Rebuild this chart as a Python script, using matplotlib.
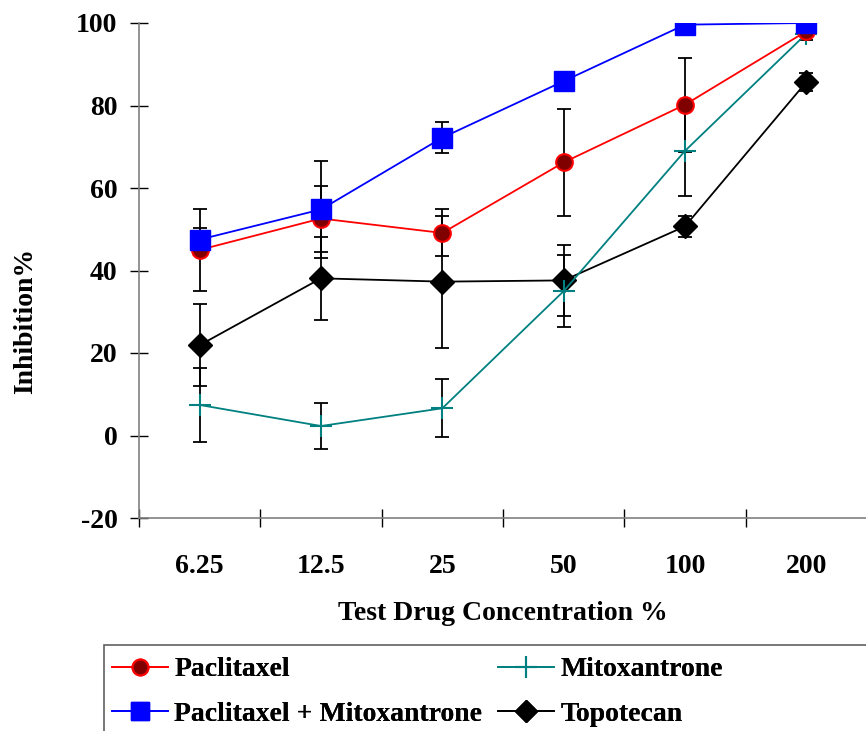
import matplotlib
matplotlib.use("Agg")
import matplotlib.pyplot as plt
from matplotlib.patches import Rectangle
import numpy as np

# concentrations (categories) and inhibition values
concentrations = ['6.25', '12.5', '25', '50', '100', '200']

paclitaxel = [45.0, 52.6, 49.1, 66.2, 80.2, 98.0]
paclitaxel_err = [10.0, 8.0, 5.7, 13.0, 11.4, 0.0]

pac_mito = [47.5, 54.8, 72.2, 85.9, 99.6, 100.0]
pac_mito_err = [2.7, 11.8, 3.7, 0.0, 0.0, 0.0]

mitoxantrone = [7.4, 2.3, 6.6, 35.0, 69.0, 97.4]
mitoxantrone_err = [9.0, 5.5, 7.0, 8.8, 11.0, 1.5]

topotecan = [21.9, 38.1, 37.3, 37.6, 50.7, 85.7]
topotecan_err = [10.0, 10.0, 16.0, 8.7, 2.5, 2.3]

font = 'Liberation Serif'
plt.rcParams['font.family'] = font
plt.rcParams['font.weight'] = 'bold'
plt.rcParams['axes.unicode_minus'] = False

fig = plt.figure(figsize=(8.66, 7.31), dpi=100)
ax = fig.add_axes([139 / 866, (731 - 518) / 731, (867 - 139) / 866, (518 - 23) / 731])

x = np.arange(len(concentrations))

# error bars first, so the markers sit on top
for vals, errs in [(paclitaxel, paclitaxel_err), (pac_mito, pac_mito_err),
                   (mitoxantrone, mitoxantrone_err), (topotecan, topotecan_err)]:
    ax.errorbar(x, vals, yerr=errs, fmt='none', ecolor='black',
                elinewidth=1.3, capsize=5, capthick=1.3, zorder=2)

ax.plot(x, topotecan, color='black', lw=1.3, marker='D', ms=12,
        mfc='black', mec='black', zorder=3, label='Topotecan')
ax.plot(x, mitoxantrone, color='#008080', lw=1.3, marker='+', ms=16,
        mew=1.5, zorder=4, label='Mitoxantrone')
ax.plot(x, paclitaxel, color='#FF0000', lw=1.3, marker='o', ms=12,
        mfc='#800000', mec='#FF0000', mew=1.5, zorder=5, label='Paclitaxel')
ax.plot(x, pac_mito, color='#0000FF', lw=1.3, marker='s', ms=14,
        mfc='#0000FF', mec='#0000FF', zorder=6, label='Paclitaxel + Mitoxantrone')

ax.set_xlim(-0.5, len(concentrations) - 0.5)
ax.set_ylim(-20, 100)
ax.set_yticks(np.arange(-20, 101, 20))
ax.set_xticks(x)
ax.set_xticklabels(concentrations)
ax.set_xticks(np.arange(-0.5, len(concentrations), 1), minor=True)

for s in ['top', 'right']:
    ax.spines[s].set_visible(False)
for s in ['left', 'bottom']:
    ax.spines[s].set_color('#808080')
    ax.spines[s].set_linewidth(1.2)

ax.tick_params(axis='y', direction='inout', length=13, width=1, color='black',
               labelsize=20, pad=9)
ax.tick_params(axis='x', which='major', length=0, labelsize=20, pad=26)
ax.tick_params(axis='x', which='minor', direction='inout', length=13, width=1, color='black')
for lab in ax.get_xticklabels() + ax.get_yticklabels():
    lab.set_fontweight('bold')

fig.text(26 / 866, 1 - 321 / 731, 'Inhibition%', rotation=90, ha='center', va='center',
         fontsize=20, fontweight='bold')
fig.text(503 / 866, 1 - 614 / 731, 'Test Drug Concentration %', ha='center', va='center',
         fontsize=20, fontweight='bold')

# legend box runs off the bottom and right edge of the figure
fig.patches.append(Rectangle((104 / 866, -0.1), 1.0, 0.1 + (731 - 645) / 731,
                             transform=fig.transFigure, fill=False,
                             edgecolor='#606060', lw=1.2))

h = {l.get_label(): l for l in ax.get_lines()}
col1 = [h['Paclitaxel'], h['Paclitaxel + Mitoxantrone']]
col2 = [h['Mitoxantrone'], h['Topotecan']]
for handles, x0 in [(col1, 112), (col2, 498)]:
    leg = fig.legend(handles=handles, loc='upper left',
                     bbox_to_anchor=(x0 / 866, 1 - 657 / 731),
                     frameon=False, handlelength=2.0, markerscale=0.95,
                     handletextpad=0.25, labelspacing=0.68, borderpad=0,
                     borderaxespad=0, prop={'family': font, 'weight': 'bold', 'size': 20})
    fig.add_artist(leg)

fig.savefig('out.png', dpi=100)
